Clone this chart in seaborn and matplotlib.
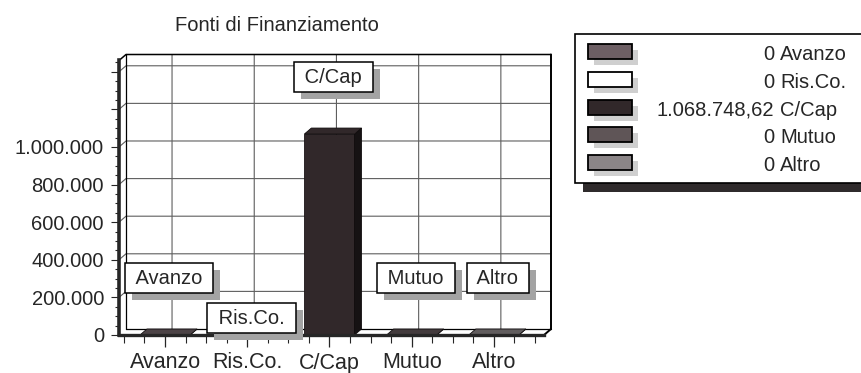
import matplotlib
matplotlib.use("Agg")
import matplotlib.pyplot as plt
import matplotlib.patheffects as pe
from matplotlib.patches import Polygon, Rectangle
from matplotlib.ticker import FixedLocator, MultipleLocator
import numpy as np
import pandas as pd
import seaborn as sns

# ---- data -------------------------------------------------------------
categories = ["Avanzo", "Ris.Co.", "C/Cap", "Mutuo", "Altro"]
values = [0, 0, 1068748.62, 0, 0]
bar_colors = ["#6d5f64", "#ffffff", "#31282a", "#5f5557", "#8b8587"]
y_ticks = [0, 200000, 400000, 600000, 800000, 1000000, 1200000, 1400000]
y_tick_labels = ["0", "200.000", "400.000", "600.000", "800.000", "1.000.000", "", ""]
title = "Fonti di Finanziamento"

# ---- layout -----------------------------------------------------------
W, H, DPI = 861, 373, 100
DX, DY = 7, 6          # depth of the pseudo-3D box, pixels (right, up)
FS = 14.5
label_lift = {"Ris.Co.": 12}   # points above the bar top; default below
DEFAULT_LIFT = 41


def shade(color, f):
    r, g, b = matplotlib.colors.to_rgb(color)
    return (r * f, g * f, b * f)


def it_number(v):
    if v == 0:
        return "0"
    s = f"{v:,.2f}"
    return s.replace(",", "#").replace(".", ",").replace("#", ".")


sns.set_style("white")
plt.rcParams["font.family"] = ["Liberation Sans", "DejaVu Sans"]

fig = plt.figure(figsize=(W / DPI, H / DPI), dpi=DPI)
ax = fig.add_axes([119 / W, (H - 335) / H, 425 / W, 274.5 / H])
ax.patch.set_visible(False)

df = pd.DataFrame({"fonte": categories, "importo": values})
sns.barplot(data=df, x="fonte", y="importo", hue="fonte", palette=bar_colors,
            width=0.61, saturation=1, legend=False, ax=ax,
            edgecolor="#1a1416", linewidth=0.6, zorder=3)

ax.set_xlim(-0.56, 4.61)
ax.set_ylim(0, 1.46e6)
ax.set_xlabel("")
ax.set_ylabel("")

# axes, ticks
for s in ("top", "right"):
    ax.spines[s].set_visible(False)
ax.spines["left"].set_linewidth(2.6)
ax.spines["bottom"].set_linewidth(2.4)
ax.spines["left"].set_zorder(4)
ax.spines["bottom"].set_zorder(4)

ax.yaxis.set_major_locator(FixedLocator(y_ticks))
ax.set_yticklabels(y_tick_labels)
ax.yaxis.set_minor_locator(MultipleLocator(50000))
ax.xaxis.set_major_locator(FixedLocator(range(len(categories))))
ax.set_xticklabels(categories)
ax.xaxis.set_minor_locator(MultipleLocator(0.25))
ax.tick_params(axis="y", which="major", direction="out", length=5.8, width=0.8,
               pad=5, labelsize=FS, left=True)
ax.tick_params(axis="y", which="minor", direction="out", length=3, width=0.8, left=True)
ax.tick_params(axis="x", which="major", direction="out", length=8.6, width=0.9,
               pad=4, labelsize=15.5, bottom=True)
ax.tick_params(axis="x", which="minor", direction="out", length=5.8, width=0.8, bottom=True)

x0, x1 = ax.get_xlim()
y0, y1 = ax.get_ylim()


def back(x, y):
    px, py = ax.transData.transform((x, y))
    return ax.transData.inverted().transform((px + DX, py + DY))


# back wall, floor and grid
bl0, br0 = back(x0, 0), back(x1, 0)
bl1, br1 = back(x0, y1), back(x1, y1)
ax.add_patch(Polygon([(x0, 0), (x1, 0), br0, bl0], closed=True, fc="white",
                     ec="none", zorder=0.5, clip_on=False))
grid_kw = dict(color="#5e5e5e", lw=0.8, zorder=1, clip_on=False)
for v in y_ticks[1:]:
    a, b = back(x0, v), back(x1, v)
    ax.plot([x0, a[0], b[0]], [v, a[1], b[1]], **grid_kw)
for i in range(len(categories)):
    a, b = back(i, 0), back(i, y1)
    ax.plot([i, a[0], b[0]], [0, a[1], b[1]], **grid_kw)

edge_kw = dict(color="black", clip_on=False, zorder=1.2)
ax.plot([bl0[0], bl1[0]], [bl0[1], bl1[1]], lw=0.9, **edge_kw)
ax.plot([x0, bl1[0], br1[0]], [y1, bl1[1], br1[1]], lw=1.1, **edge_kw)
ax.plot([br1[0], br0[0], x1], [br1[1], br0[1], 0], lw=1.4, **edge_kw)
ax.plot([bl0[0], br0[0]], [bl0[1], br0[1]], lw=0.9, **edge_kw)

# pseudo-3D faces of the bars
for p in ax.patches[:len(categories)]:
    x, w, h = p.get_x(), p.get_width(), p.get_height()
    fc = p.get_facecolor()
    top = [(x, h), (x + w, h), back(x + w, h), back(x, h)]
    side = [(x + w, 0), (x + w, h), back(x + w, h), back(x + w, 0)]
    top_c = fc if h > 0 else shade(fc, 0.7)
    ax.add_patch(Polygon(side, closed=True, fc=shade(fc, 0.45), ec="#100c0d",
                         lw=0.6, zorder=3.1, clip_on=False))
    ax.add_patch(Polygon(top, closed=True, fc=top_c, ec="#100c0d",
                         lw=0.6, zorder=3.2, clip_on=False))

# boxed category labels with drop shadow
for i, (cat, v) in enumerate(zip(categories, values)):
    t = ax.annotate(f" {cat} ", xy=(i, v), xytext=(3, label_lift.get(cat, DEFAULT_LIFT)),
                    textcoords="offset points", ha="center", va="center",
                    fontsize=FS, zorder=6, annotation_clip=False,
                    bbox=dict(boxstyle="square,pad=0.28", fc="white", ec="black", lw=1.1))
    t.get_bbox_patch().set_path_effects([
        pe.SimplePatchShadow(offset=(5, -5), shadow_rgbFace="#a3a3a3", alpha=1),
        pe.Normal()])

# overlay in pixel coordinates for title and legend
lax = fig.add_axes([0, 0, 1, 1])
lax.set_xlim(0, W)
lax.set_ylim(H, 0)
lax.axis("off")
lax.patch.set_visible(False)

lax.text(277, 31, title, ha="center", va="baseline", fontsize=FS)

lax.add_patch(Rectangle((583, 43), 320, 149, fc="#2f2b2c", ec="none", zorder=1))
lax.add_patch(Rectangle((575, 34), 320, 149, fc="white", ec="black", lw=1.2, zorder=2))
for k, (cat, v, c) in enumerate(zip(categories, values, bar_colors)):
    base = 60 + 27.75 * k
    yc = base - 8.5
    lax.add_patch(Rectangle((594, yc - 7.5 + 6), 44, 15, fc="#cfcfcf", ec="none", zorder=3))
    lax.add_patch(Rectangle((588, yc - 7.5), 44, 15, fc=c, ec="black", lw=1.3, zorder=4))
    lax.text(774, base, it_number(v), ha="right", va="baseline", fontsize=FS, zorder=5)
    lax.text(780, base, cat, ha="left", va="baseline", fontsize=FS, zorder=5)

fig.savefig("out.png", dpi=DPI, facecolor="white")
